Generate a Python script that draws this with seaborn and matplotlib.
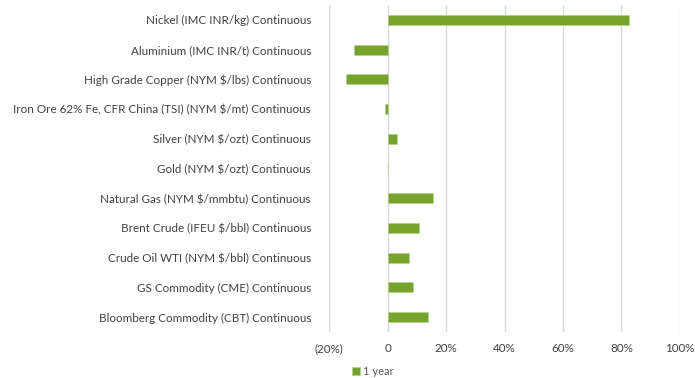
import matplotlib
matplotlib.use("Agg")
import matplotlib.pyplot as plt
import seaborn as sns
import pandas as pd

categories = [
    "Nickel (IMC INR/kg) Continuous",
    "Aluminium (IMC INR/t) Continuous",
    "High Grade Copper (NYM $/lbs) Continuous",
    "Iron Ore 62% Fe, CFR China (TSI) (NYM $/mt) Continuous",
    "Silver (NYM $/ozt) Continuous",
    "Gold (NYM $/ozt) Continuous",
    "Natural Gas (NYM $/mmbtu) Continuous",
    "Brent Crude (IFEU $/bbl) Continuous",
    "Crude Oil WTI (NYM $/bbl) Continuous",
    "GS Commodity (CME) Continuous",
    "Bloomberg Commodity (CBT) Continuous",
]
one_year = [82.4, -11.5, -14.3, -0.8, 3.2, 0.2, 15.4, 10.6, 7.2, 8.6, 14.0]
x_ticks = [-20, 0, 20, 40, 60, 80, 100]
x_tick_labels = ["(20%)", "0", "20%", "40%", "60%", "80%", "100%"]
series_name = "1 year"

sns.set_theme(style="white")
plt.rcParams["font.family"] = ["Lato", "DejaVu Sans"]

df = pd.DataFrame({"Commodity": categories, "Return": one_year})

fig = plt.figure(figsize=(6.95, 3.78), dpi=100)
ax = fig.add_axes([0.4734, 0.1217, 0.505, 0.865])

bar_color = "#76a22e"
sns.barplot(data=df, x="Return", y="Commodity", orient="h", color=bar_color,
            saturation=1, width=0.34, edgecolor="#b5d08a", linewidth=0.5,
            ax=ax, label=series_name, zorder=3)

ax.set_xlim(-20, 100)
ax.set_xticks(x_ticks)
ax.set_xticklabels(x_tick_labels)
ax.grid(axis="x", color="#d9d9d9", linewidth=1.0, zorder=0)
ax.grid(axis="y", visible=False)
for s in ax.spines.values():
    s.set_visible(False)
ax.set_xlabel("")
ax.set_ylabel("")
ax.tick_params(axis="both", length=0, labelsize=8.4, labelcolor="#404040")
ax.tick_params(axis="x", pad=8)
ax.tick_params(axis="y", pad=13)

if ax.get_legend() is not None:
    ax.get_legend().remove()
handles, labels = ax.get_legend_handles_labels()
fig.legend(handles[:1], labels[:1], loc="center", bbox_to_anchor=(0.537, 0.018),
           frameon=False, fontsize=8, handlelength=0.7, handleheight=0.7,
           handletextpad=0.3, labelcolor="#595959")

fig.savefig("out.png", dpi=100)
